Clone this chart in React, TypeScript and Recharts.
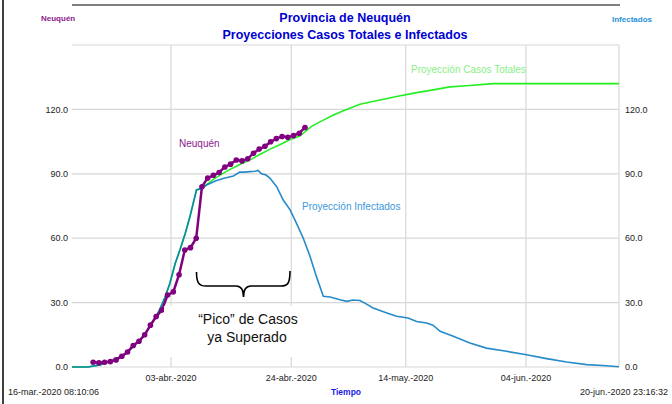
import { LineChart, Line, XAxis, YAxis, ReferenceLine } from "recharts";

// x = days since 16-mar-2020 00:00
const xTicks = [18, 39, 59, 80];
const xTickLabels = ["03-abr.-2020", "24-abr.-2020", "14-may.-2020", "04-jun.-2020"];
const yTicks = [0, 30, 60, 90, 120];

const neuquenDays = [
  4.4, 5.4, 6.4, 7.4, 8.4, 9.4, 10.4, 11.4, 12.4, 13.4, 14.4, 15.4, 16.4, 17.4, 18.4, 19.4, 20.4, 21.4, 22.4,
  23.4, 24.4, 25.4, 26.4, 27.4, 28.4, 29.4, 30.4, 31.4, 32.4, 33.4, 34.4, 35.4, 36.4, 37.4, 38.4, 39.4, 40.4, 41.4,
];
const neuquenCases = [
  2.2, 2.0, 2.2, 2.5, 3.3, 5.0, 7.0, 10.0, 12.0, 15.0, 19.5, 23.5, 26.5, 33.5, 35.0, 43.0, 54.5, 55.6, 60.0,
  84.0, 88.0, 89.3, 90.6, 93.2, 94.5, 96.4, 96.0, 97.0, 99.6, 101.5, 102.8, 104.9, 106.4, 107.4, 107.0, 107.8, 108.9, 111.6,
];

const totalDays = [
  0.7, 3.5, 5.6, 7.3, 8.7, 10.25, 11.35, 12.6, 13.45, 14.3, 15.2, 16.1, 16.95, 17.8, 18.7, 19.55, 20.45, 21.3, 22.45,
  23.35, 24.2, 25.7, 27.9, 30.0, 31.8, 33.5, 35.3, 37.0, 38.8, 40.5, 42.6, 44.6, 46.3, 48.1, 51.0, 54.5, 57.4, 60.9,
  63.8, 66.7, 69.6, 74.3, 96.25,
];
const totalCases = [
  0, 0, 1.0, 2.6, 4.2, 6.5, 9.5, 12.7, 15.5, 18.7, 22.5, 27.2, 32.5, 39.0, 48.0, 54.5, 62.0, 70.0, 82.5,
  83.3, 85.0, 88.0, 91.5, 94.3, 96.5, 99.0, 101.5, 103.5, 106.0, 107.6, 112.2, 115.0, 117.3, 119.4, 122.4, 124.4, 126.0, 127.8,
  129.1, 130.5, 131.0, 132.0, 132.0,
];

const infectedDays = [
  0.7, 3.5, 5.6, 7.3, 8.7, 10.25, 11.35, 12.6, 13.45, 14.3, 15.2, 16.1, 16.95, 17.8, 18.7, 19.55, 20.45, 21.3, 22.45,
  23.35, 24.2, 24.8, 25.85, 27.1, 28.9, 30.0, 30.9, 31.8, 32.7, 33.2, 33.8, 34.6, 35.3, 36.45, 37.0, 37.6, 38.8, 39.9,
  41.1, 42.3, 43.4, 44.6, 45.8, 47.5, 48.7, 49.8, 51.0, 52.0, 53.3, 55.7, 57.4, 59.4, 60.9, 62.65, 63.75, 65.0, 67.3,
  70.2, 73.1, 76.6, 80.1, 83.6, 87.1, 90.6, 94.1, 96.25,
];
const infected = [
  0, 0, 1.0, 2.6, 4.2, 6.5, 9.5, 12.7, 15.5, 18.7, 22.5, 27.2, 32.5, 39.0, 48.0, 54.5, 62.0, 70.0, 82.5,
  83.3, 84.8, 85.5, 86.8, 87.8, 89.0, 90.8, 90.8, 91.0, 91.2, 91.6, 90.0, 89.4, 87.9, 84.0, 81.0, 77.8, 73.2, 67.0,
  60.0, 51.4, 42.1, 32.9, 32.6, 31.3, 30.6, 31.2, 31.0, 29.5, 27.5, 25.2, 23.6, 22.8, 21.2, 20.5, 19.5, 16.6, 14.3,
  11.2, 8.8, 7.3, 5.7, 3.9, 2.3, 1.1, 0.6, 0.1,
];

const neuquenData = neuquenDays.map((d, i) => ({ day: d, v: neuquenCases[i] }));
const totalData = totalDays.map((d, i) => ({ day: d, v: totalCases[i] }));
const infectedData = infectedDays.map((d, i) => ({ day: d, v: infected[i] }));

const font = "'Liberation Sans', Arial, Helvetica, sans-serif";
const tickStyle = { fontSize: 9, fill: "#222", fontFamily: font };
const gridColor = "#d8d8d8";

export default function App() {
  return (
    <div style={{ position: "absolute", left: 0, top: 0, width: 672, height: 404, background: "#fff", fontFamily: font }}>
      <LineChart width={672} height={404} margin={{ top: 45, right: 0, bottom: 0, left: 0 }}>
        <XAxis
          type="number"
          dataKey="day"
          domain={[0.7, 96.25]}
          ticks={xTicks}
          allowDataOverflow
          height={37}
          tickSize={0}
          tickLine={false}
          tickMargin={8}
          axisLine={false}
          tick={tickStyle}
          tickFormatter={(v) => xTickLabels[xTicks.indexOf(v)] ?? ""}
        />
        <YAxis
          yAxisId="left"
          orientation="left"
          width={72}
          domain={[0, 150]}
          ticks={yTicks}
          tickSize={0}
          tickLine={false}
          tickMargin={4}
          axisLine={false}
          tick={tickStyle}
          tickFormatter={(v) => Number(v).toFixed(1)}
        />
        <YAxis
          yAxisId="right"
          orientation="right"
          width={53}
          domain={[0, 150]}
          ticks={yTicks}
          tickSize={0}
          tickLine={false}
          tickMargin={6}
          axisLine={false}
          tick={tickStyle}
          tickFormatter={(v) => Number(v).toFixed(1)}
        />
        {yTicks.map((t) => (
          <ReferenceLine key={"h" + t} yAxisId="left" y={t} stroke={gridColor} strokeWidth={1.2} />
        ))}
        {xTicks.map((t) => (
          <ReferenceLine key={"v" + t} yAxisId="left" x={t} stroke={gridColor} strokeWidth={1.2} />
        ))}
        <ReferenceLine yAxisId="left" y={150} stroke={gridColor} strokeWidth={1.2} />
        <ReferenceLine yAxisId="left" x={96.25} stroke={gridColor} strokeWidth={1.2} />
        <Line
          yAxisId="left"
          data={totalData}
          dataKey="v"
          type="linear"
          stroke="#22ee22"
          strokeWidth={1.6}
          dot={false}
          isAnimationActive={false}
        />
        <Line
          yAxisId="right"
          data={infectedData}
          dataKey="v"
          type="linear"
          stroke="#0077c0"
          strokeOpacity={0.85}
          strokeWidth={1.6}
          dot={false}
          isAnimationActive={false}
        />
        <Line
          yAxisId="left"
          data={neuquenData}
          dataKey="v"
          type="linear"
          stroke="#800080"
          strokeWidth={2.5}
          dot={{ r: 2.8, fill: "#800080", stroke: "#800080", strokeWidth: 0 }}
          isAnimationActive={false}
        />
      </LineChart>
      <svg width={672} height={404} style={{ position: "absolute", left: 0, top: 0, pointerEvents: "none" }}>
        <line x1={3} y1={0} x2={3} y2={404} stroke="#000" strokeWidth={1.5} />
        <line x1={72} y1={5} x2={620} y2={5} stroke="#000" strokeWidth={1.2} />
        <text x={345} y={22} textAnchor="middle" fontSize={12.5} fontWeight="bold" fill="#0000d0">Provincia de Neuquén</text>
        <text x={345} y={39} textAnchor="middle" fontSize={12.5} fontWeight="bold" fill="#0000d0">Proyecciones Casos Totales e Infectados</text>
        <text x={41} y={21} fontSize={8} fontWeight="bold" fill="#8b1a8b">Neuquén</text>
        <text x={612} y={22} fontSize={8} fontWeight="bold" fill="#1e90d8">Infectados</text>
        <text x={8} y={395} fontSize={9} fill="#222">16-mar.-2020 08:10:06</text>
        <text x={346} y={395} textAnchor="middle" fontSize={8.5} fontWeight="bold" fill="#1a1ae6">Tiempo</text>
        <text x={668} y={395} textAnchor="end" fontSize={9} fill="#222">20-jun.-2020 23:16:32</text>
        <text x={179} y={147} fontSize={10} fill="#8b1a8b">Neuquén</text>
        <text x={411} y={73} fontSize={10} fill="#88f088">Proyección Casos Totales</text>
        <text x={302} y={210} fontSize={10} fill="#3a98e0">Proyección Infectados</text>
        <rect x={164} y={306} width={160} height={51} fill="#fff" />
        <path
          d="M196.5 272 C196.5 283 199 286 206 286 L236 286 C241 286 243.5 289 243.5 297 C243.5 289 246 286 251 286 L281 286 C288 286 290 283 290 271"
          fill="none"
          stroke="#000"
          strokeWidth={1.6}
        />
        <text x={248} y={324} textAnchor="middle" fontSize={14} fill="#111">“Pico” de Casos</text>
        <text x={247} y={342} textAnchor="middle" fontSize={14} fill="#111">ya Superado</text>
      </svg>
    </div>
  );
}
